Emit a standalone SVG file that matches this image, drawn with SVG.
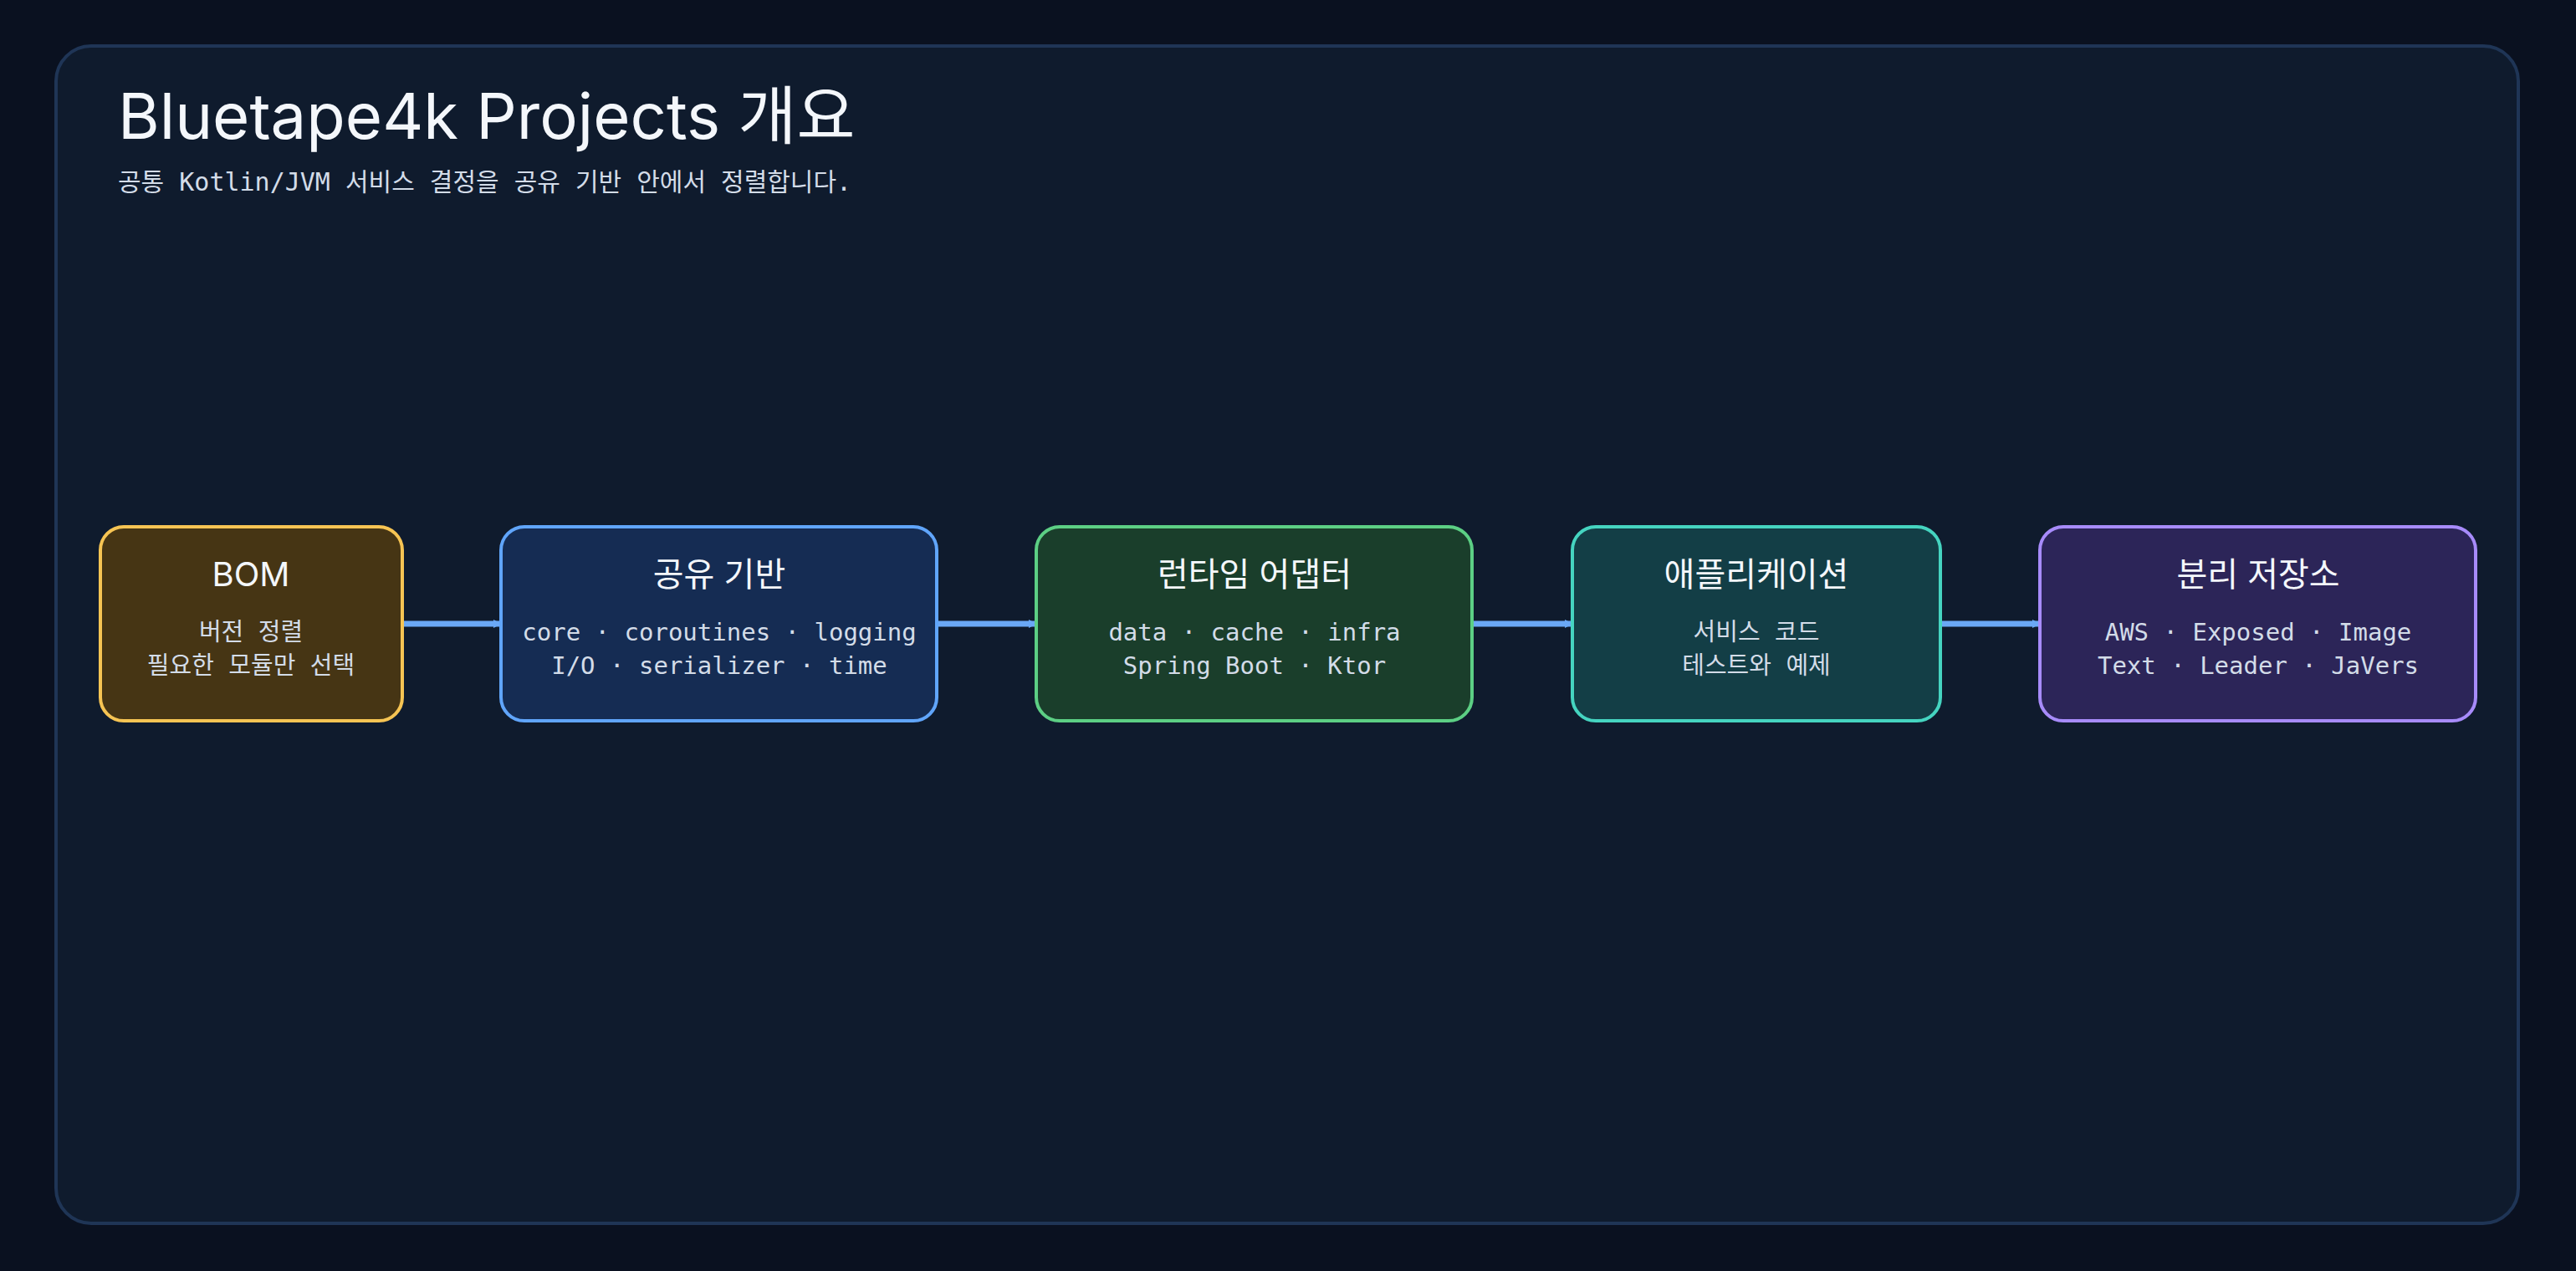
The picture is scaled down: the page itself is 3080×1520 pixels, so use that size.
<svg xmlns="http://www.w3.org/2000/svg" width="3080" height="1520" viewBox="0 0 3080 1520">
<defs>
<marker id="ah" markerWidth="10" markerHeight="10" refX="9" refY="5" orient="auto" markerUnits="userSpaceOnUse" viewBox="0 0 10 10"><path d="M0,0 L10,5 L0,10 z" fill="#6aa8f5"/></marker>
</defs>
<style>
.t{font-family:Inter,"Noto Sans","Noto Sans CJK KR",sans-serif;fill:#f4f7fb;text-anchor:middle;font-size:40px}
.s{font-family:"DejaVu Sans Mono","Noto Sans CJK KR",monospace;fill:#d3dce8;text-anchor:middle;font-size:29px}
.n{stroke-width:4}
.c{stroke:#6aa8f5;stroke-width:7;fill:none}
</style>
<rect width="3080" height="1520" fill="#0a1120"/>
<rect x="67" y="55" width="2944" height="1408" rx="42" fill="#0f1b2d" stroke="#1f3556" stroke-width="4"/>
<text x="141" y="166" style="font-family:Inter,'Noto Sans','Noto Sans CJK KR',sans-serif;font-size:76px;fill:#f4f7fb">Bluetape4k Projects 개요</text>
<text x="141" y="228" style="font-family:'DejaVu Sans Mono','Noto Sans CJK KR',monospace;font-size:30px;fill:#d3dce8">공통 Kotlin/JVM 서비스 결정을 공유 기반 안에서 정렬합니다.</text>
<g id="connectors">
<line class="c" x1="481" y1="746" x2="599" y2="746" marker-end="url(#ah)"/>
<line class="c" x1="1120" y1="746" x2="1239" y2="746" marker-end="url(#ah)"/>
<line class="c" x1="1760" y1="746" x2="1880" y2="746" marker-end="url(#ah)"/>
<line class="c" x1="2320" y1="746" x2="2439" y2="746" marker-end="url(#ah)"/>
</g>
<g id="bom"><rect class="n" x="120" y="630" width="361" height="232" rx="28" fill="#463514" stroke="#f6c453"/>
<text class="t" x="300" y="701">BOM</text><text class="s" x="300" y="766">버전 정렬</text><text class="s" x="300" y="806">필요한 모듈만 선택</text></g>
<g id="shared"><rect class="n" x="599" y="630" width="521" height="232" rx="28" fill="#152c53" stroke="#60a5fa"/>
<text class="t" x="860" y="701">공유 기반</text><text class="s" x="860" y="766">core · coroutines · logging</text><text class="s" x="860" y="806">I/O · serializer · time</text></g>
<g id="runtime"><rect class="n" x="1239" y="630" width="521" height="232" rx="28" fill="#1a3e2b" stroke="#5ccf84"/>
<text class="t" x="1500" y="701">런타임 어댑터</text><text class="s" x="1500" y="766">data · cache · infra</text><text class="s" x="1500" y="806">Spring Boot · Ktor</text></g>
<g id="app"><rect class="n" x="1880" y="630" width="440" height="232" rx="28" fill="#133e46" stroke="#45d4c0"/>
<text class="t" x="2100" y="701">애플리케이션</text><text class="s" x="2100" y="766">서비스 코드</text><text class="s" x="2100" y="806">테스트와 예제</text></g>
<g id="repos"><rect class="n" x="2439" y="630" width="521" height="232" rx="28" fill="#2c2558" stroke="#a78bfa"/>
<text class="t" x="2700" y="701">분리 저장소</text><text class="s" x="2700" y="766">AWS · Exposed · Image</text><text class="s" x="2700" y="806">Text · Leader · JaVers</text></g>
</svg>
